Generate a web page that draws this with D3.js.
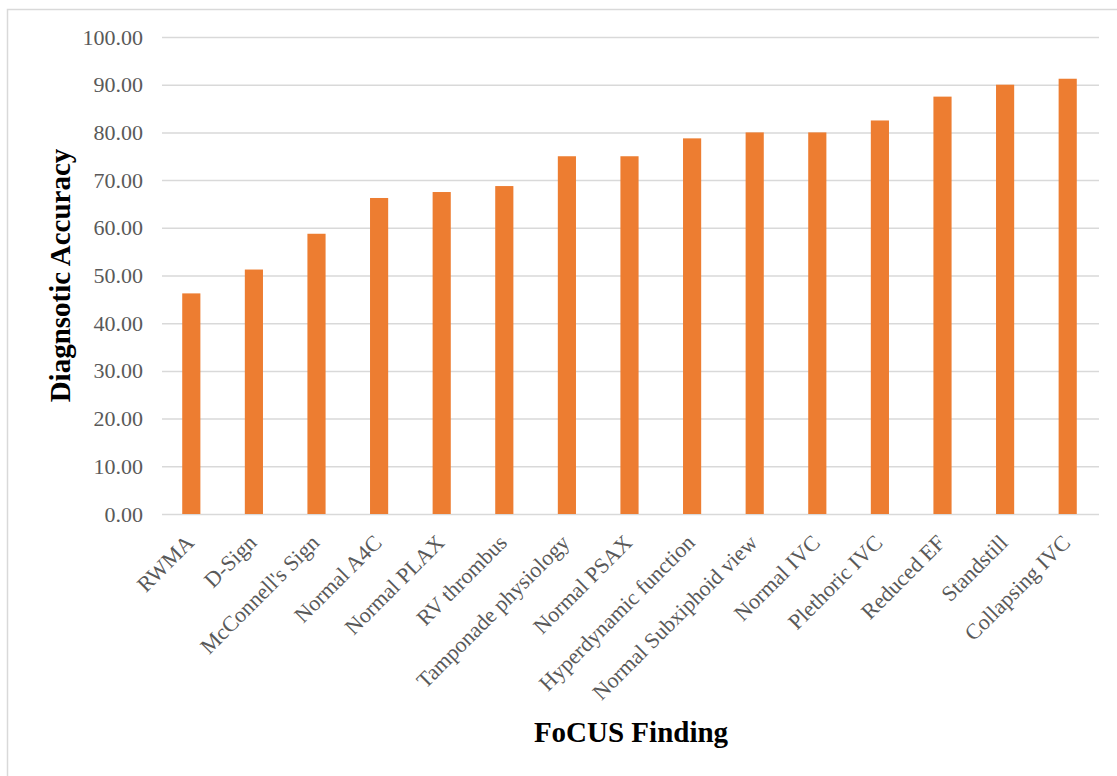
<!DOCTYPE html>
<html>
<head>
<meta charset="utf-8">
<script src="https://cdn.jsdelivr.net/npm/d3@7"></script>
<style>
  body { margin: 0; background: #fff; }
  svg { display: block; }
</style>
</head>
<body>
<div id="chart"></div>
<script>
// Input data for the chart
const findings = [
  "RWMA", "D-Sign", "McConnell's Sign", "Normal A4C", "Normal PLAX",
  "RV thrombus", "Tamponade physiology", "Normal PSAX", "Hyperdynamic function",
  "Normal Subxiphoid view", "Normal IVC", "Plethoric IVC", "Reduced EF",
  "Standstill", "Collapsing IVC"
];
const accuracy = [
  46.25, 51.25, 58.75, 66.25, 67.5,
  68.75, 75, 75, 78.75,
  80, 80, 82.5, 87.5,
  90, 91.25
];
const yTicks = [0, 10, 20, 30, 40, 50, 60, 70, 80, 90, 100];

const width = 1117;
const height = 776;
const margin = { top: 37, right: 18, bottom: 262, left: 160 };

const svg = d3
  .select("#chart")
  .append("svg")
  .attr("width", width)
  .attr("height", height);

// outer chart border
svg
  .append("rect")
  .attr("x", 7.5)
  .attr("y", 9.5)
  .attr("width", width)
  .attr("height", height)
  .attr("fill", "none")
  .attr("stroke", "#d9d9d9")
  .attr("stroke-width", 1.5);

const x = d3
  .scaleBand()
  .domain(findings)
  .range([margin.left, width - margin.right])
  .paddingInner(0.71)
  .paddingOuter(0.355);

const y = d3
  .scaleLinear()
  .domain([0, 100])
  .range([height - margin.bottom, margin.top]);

// gridlines + y labels
const yAxis = d3
  .axisLeft(y)
  .tickValues(yTicks)
  .tickSize(-(width - margin.right - margin.left - 2))
  .tickPadding(19)
  .tickFormat(d3.format(".2f"));

svg
  .append("g")
  .attr("transform", `translate(${margin.left + 2}, 0)`)
  .call(yAxis)
  .call(g => g.select(".domain").remove())
  .call(g => g.selectAll(".tick line").attr("stroke", "#d9d9d9").attr("stroke-width", 1.5))
  .call(g =>
    g.selectAll(".tick text")
      .attr("fill", "#595959")
      .style("font-family", "'Liberation Serif', 'Times New Roman', serif")
      .style("font-size", "22px")
  );

// bars
svg
  .append("g")
  .selectAll("rect")
  .data(accuracy)
  .enter()
  .append("rect")
  .attr("x", (d, i) => x(findings[i]))
  .attr("y", d => y(d))
  .attr("width", x.bandwidth())
  .attr("height", d => y(0) - y(d))
  .attr("fill", "#ED7D31");

// x labels, rotated
const xAxis = d3.axisBottom(x).tickSize(0).tickPadding(0);
svg
  .append("g")
  .attr("transform", `translate(0, ${height - margin.bottom})`)
  .call(xAxis)
  .call(g => g.select(".domain").remove())
  .call(g =>
    g.selectAll(".tick text")
      .attr("fill", "#595959")
      .attr("text-anchor", "end")
      .attr("dy", null)
      .attr("y", null)
      .attr("transform", "translate(4, 30) rotate(-45)")
      .style("font-family", "'Liberation Serif', 'Times New Roman', serif")
      .style("font-size", "22px")
  );

// axis titles
svg
  .append("text")
  .attr("transform", `translate(70, ${(y(0) + y(100)) / 2}) rotate(-90)`)
  .attr("text-anchor", "middle")
  .style("font-family", "'Liberation Serif', 'Times New Roman', serif")
  .style("font-size", "29px")
  .style("font-weight", "bold")
  .text("Diagnsotic Accuracy");

svg
  .append("text")
  .attr("x", 631)
  .attr("y", 742)
  .attr("text-anchor", "middle")
  .style("font-family", "'Liberation Serif', 'Times New Roman', serif")
  .style("font-size", "29px")
  .style("font-weight", "bold")
  .text("FoCUS Finding");
</script>
</body>
</html>
